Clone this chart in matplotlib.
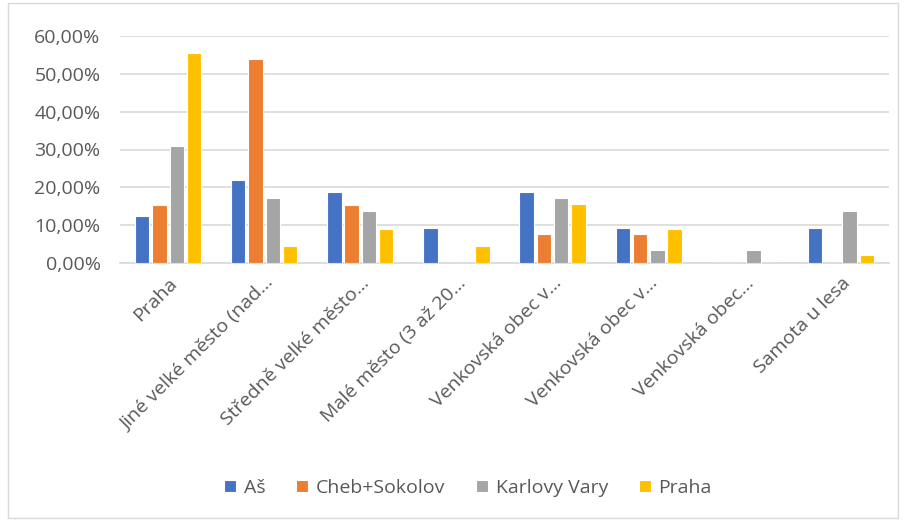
import matplotlib
matplotlib.use("Agg")
import numpy as np
import matplotlib.pyplot as plt
from matplotlib.ticker import FuncFormatter
from matplotlib.patches import Rectangle

# Data (shares in %)
categories = ["Praha", "Jiné velké město (nad…", "Středně velké město…",
              "Malé město (3 až 20…", "Venkovská obec v…", "Venkovská obec v…",
              "Venkovská obec…", "Samota u lesa"]
series = ["Aš", "Cheb+Sokolov", "Karlovy Vary", "Praha"]
as_vals = [12.50, 21.88, 18.75, 9.38, 18.75, 9.38, 0.0, 9.38]
cheb_vals = [15.38, 53.85, 15.38, 0.0, 7.69, 7.69, 0.0, 0.0]
kv_vals = [31.03, 17.24, 13.79, 0.0, 17.24, 3.45, 3.45, 13.79]
praha_vals = [55.56, 4.44, 8.89, 4.44, 15.56, 8.89, 0.0, 2.22]
colors = ["#4472C4", "#ED7D31", "#A5A5A5", "#FFC000"]

plt.rcParams['font.family'] = ['Open Sans', 'DejaVu Sans']
txt = "#595959"

fig = plt.figure(figsize=(9.05, 5.2), dpi=100)
ax = fig.add_axes([120 / 905, 1 - 263 / 520, (889 - 120) / 905, (263 - 36) / 520])

x = np.arange(len(categories))
pitch = 0.18
width = 0.15
for i, (name, vals) in enumerate(zip(series, [as_vals, cheb_vals, kv_vals, praha_vals])):
    ax.bar(x + (i - 1.5) * pitch, vals, width, color=colors[i], label=name,
           edgecolor="white", linewidth=0.8, zorder=3)

ax.set_xlim(-0.5, len(categories) - 0.5)
ax.set_ylim(0, 60)
ax.set_yticks(np.arange(0, 61, 10))
ax.yaxis.set_major_formatter(FuncFormatter(lambda v, p: f"{v:.2f}".replace(".", ",") + "%"))
ax.grid(axis="y", color="#D9D9D9", linewidth=1.2, zorder=0)
for s in ["top", "right", "left"]:
    ax.spines[s].set_visible(False)
ax.spines["bottom"].set_color("#D9D9D9")
ax.spines["bottom"].set_linewidth(1.2)
ax.tick_params(axis="both", length=0, colors=txt, labelsize=14)
ax.tick_params(axis="y", pad=14)
ax.tick_params(axis="x", pad=8)
ax.set_xticks(x)
ax.set_xticklabels(categories, rotation=45, ha="right", rotation_mode="anchor")

leg = fig.legend(loc="center", bbox_to_anchor=(468 / 905, 1 - 488 / 520), ncol=4,
                 frameon=False, fontsize=14, handlelength=0.6, handleheight=0.6,
                 columnspacing=1.6, handletextpad=0.4)
for t in leg.get_texts():
    t.set_color(txt)

fig.patches.append(Rectangle((8 / 905, 2 / 520), 890 / 905, 515 / 520,
                             transform=fig.transFigure, fill=False,
                             edgecolor="#D9D9D9", linewidth=1))

fig.savefig("out.png", dpi=100)
